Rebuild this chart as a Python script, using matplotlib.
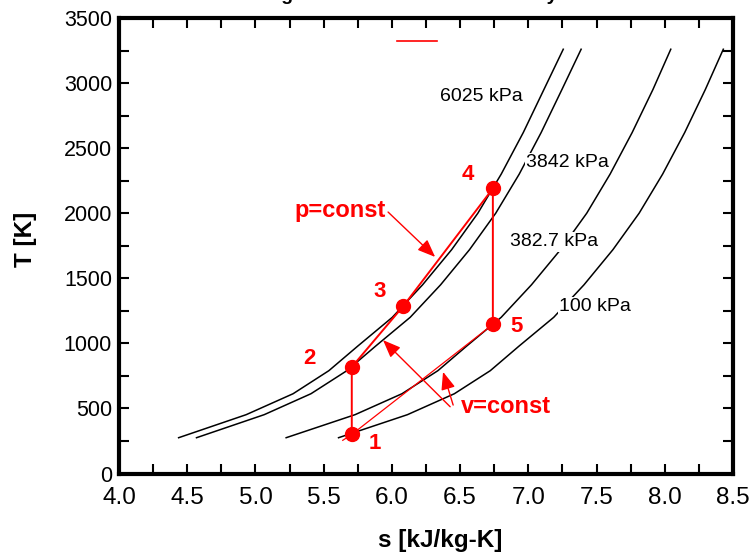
import numpy as np
import matplotlib.pyplot as plt
from matplotlib.lines import Line2D

plt.rcParams['font.family'] = ['Liberation Sans', 'DejaVu Sans']

# isobars of air
T_iso = [275, 452, 613, 790, 980, 1200, 1450, 1720, 2000, 2300, 2620, 2950, 3260]
s_6025 = [4.437, 4.932, 5.276, 5.538, 5.751, 6.003, 6.225, 6.438, 6.630, 6.801, 6.963, 7.114, 7.256]
s_3842 = [4.568, 5.064, 5.407, 5.670, 5.882, 6.134, 6.357, 6.569, 6.761, 6.933, 7.094, 7.246, 7.387]
s_3827 = [5.225, 5.730, 6.074, 6.337, 6.549, 6.801, 7.023, 7.236, 7.428, 7.599, 7.761, 7.913, 8.044]
s_100 = [5.609, 6.114, 6.458, 6.721, 6.933, 7.186, 7.408, 7.620, 7.812, 7.984, 8.146, 8.297, 8.429]

iso_labels = ['6025 kPa', '3842 kPa', '382.7 kPa', '100 kPa']
iso_label_s = [6.657, 7.288, 7.186, 7.49]
iso_label_T = [2897, 2387, 1780, 1282]

# cycle states 1..5
state_names = ['1', '2', '3', '4', '5']
state_s = [5.706, 5.706, 6.084, 6.740, 6.740]
state_T = [300, 818, 1287, 2190, 1146]
name_s = [5.877, 5.395, 5.913, 6.554, 6.916]
name_T = [234, 884, 1395, 2299, 1127]

# constant volume line 5-1 (runs a bit past state 1)
v51_s = [6.740, 5.706, 5.64]
v51_T = [1146, 300, 255]

fig = plt.figure(figsize=(7.51, 5.54), dpi=100)
ax = fig.add_axes([119 / 751, 1 - 473.5 / 554, 614 / 751, 455.5 / 554])

for s_vals in [s_6025, s_3842, s_3827, s_100]:
    ax.plot(s_vals, T_iso, color='black', lw=1.1, zorder=2)

for lab, xs, yt in zip(iso_labels, iso_label_s, iso_label_T):
    ax.text(xs, yt, lab, fontsize=14, ha='center', va='center', zorder=3,
            bbox=dict(facecolor='white', edgecolor='none', pad=1))

ax.plot(state_s, state_T, color='red', lw=1.4, zorder=4)
ax.plot(v51_s, v51_T, color='red', lw=0.9, zorder=4)
ax.plot(state_s, state_T, 'o', color='red', ms=10, zorder=5)

for nm, xs, yt in zip(state_names, name_s, name_T):
    ax.text(xs, yt, nm, color='red', fontsize=16, fontweight='bold',
            ha='center', va='center', zorder=6)

arrow = dict(arrowstyle='-|>,head_length=0.6,head_width=0.24', color='red',
             lw=1, mutation_scale=18, shrinkA=0, shrinkB=0)
ax.text(5.620, 2022, 'p=const', color='red', fontsize=17, fontweight='bold',
        ha='center', va='center', zorder=6)
ax.annotate('', xy=(6.317, 1664), xytext=(5.972, 2009), arrowprops=arrow, zorder=6)
ax.text(6.836, 514, 'v=const', color='red', fontsize=17, fontweight='bold',
        ha='center', va='center', zorder=6)
ax.annotate('', xy=(5.935, 1025), xytext=(6.427, 513), arrowprops=arrow, zorder=6)
ax.annotate('', xy=(6.375, 781), xytext=(6.449, 526), arrowprops=arrow, zorder=6)

# empty legend entry at the top
ax.legend([Line2D([], [], color='red', lw=1.2)], [''], loc='upper left',
          bbox_to_anchor=(0.453, 0.962), frameon=False, fontsize=10,
          handlelength=2.9, borderpad=0, borderaxespad=0, handletextpad=0)

ax.set_xlim(4.0, 8.5)
ax.set_ylim(0, 3500)
ax.set_xticks(np.arange(4.0, 8.51, 0.5))
ax.set_xticks(np.arange(4.0, 8.51, 0.25), minor=True)
ax.set_yticks(np.arange(0, 3501, 500))
ax.set_yticks(np.arange(0, 3501, 250), minor=True)
ax.xaxis.set_major_formatter(plt.FormatStrFormatter('%.1f'))
ax.tick_params(which='both', direction='in', length=7, width=1.5,
               top=True, right=True)
ax.tick_params(axis='x', labelsize=17.5, pad=10)
ax.tick_params(axis='y', labelsize=15.5, pad=5)
for sp in ax.spines.values():
    sp.set_linewidth(3)

ax.set_xlabel('s [kJ/kg-K]', fontsize=17.5, fontweight='bold')
ax.set_ylabel('T [K]', fontsize=17.5, fontweight='bold')
ax.xaxis.set_label_coords(0.523, -0.121)
ax.yaxis.set_label_coords(-0.134, 0.513)

fig.text(418 / 751, 1.0, 'Diagram for Dual Combustion Cycle', ha='center',
         va='baseline', fontsize=14, fontweight='bold')

fig.savefig('out.png', dpi=100)
